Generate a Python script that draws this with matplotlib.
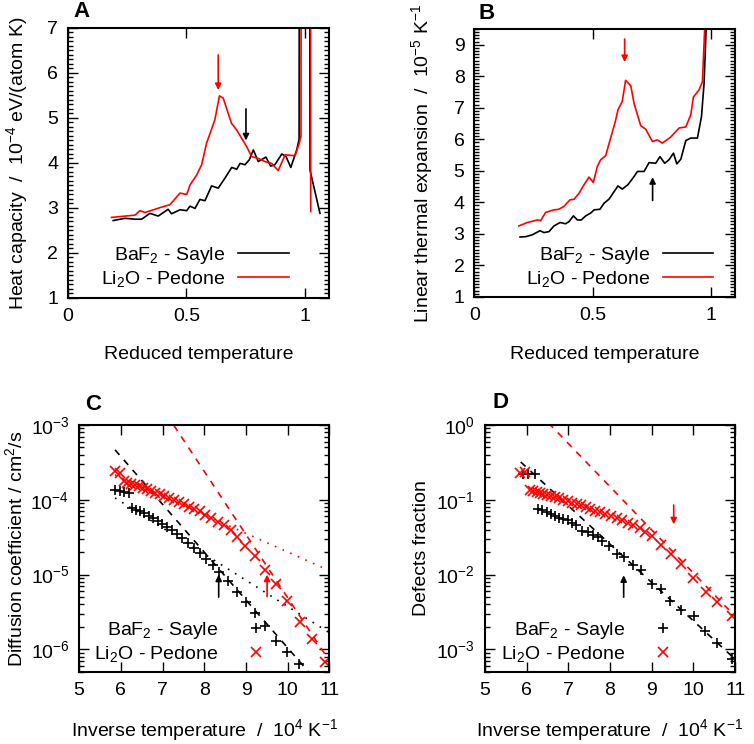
import matplotlib
matplotlib.use("Agg")
import matplotlib.pyplot as plt
from matplotlib.ticker import MultipleLocator, FixedLocator, LogLocator, NullFormatter

plt.rcParams['font.family'] = ['Liberation Sans', 'DejaVu Sans']
plt.rcParams['mathtext.default'] = 'regular'
plt.rcParams['font.size'] = 14

# ---- panel A : heat capacity vs reduced temperature
a_baf2_x = [0.191, 0.241, 0.283, 0.311, 0.346, 0.381, 0.423, 0.437, 0.473, 0.501, 0.515, 0.536,
            0.557, 0.578, 0.606, 0.634, 0.662, 0.691, 0.712, 0.726, 0.747, 0.765, 0.782, 0.803,
            0.835, 0.855, 0.873, 0.902, 0.920, 0.940, 0.965, 0.975, 0.995, 1.021, 1.063]
a_baf2_y = [2.72, 2.77, 2.75, 2.75, 2.88, 2.82, 2.97, 2.87, 2.96, 2.94, 3.04, 2.99,
            3.19, 3.16, 3.49, 3.44, 3.66, 3.90, 3.86, 3.99, 3.96, 4.07, 4.29, 4.03,
            4.13, 3.93, 3.96, 4.20, 4.14, 3.90, 4.29, 4.53, 100.0, 3.84, 2.88]
a_li2o_x = [0.184, 0.283, 0.304, 0.325, 0.367, 0.402, 0.430, 0.473, 0.501, 0.515, 0.543, 0.564,
            0.585, 0.620, 0.639, 0.655, 0.690, 0.712, 0.754, 0.775, 0.803, 0.831, 0.859, 0.887,
            0.916, 0.958, 0.976, 0.983, 1.000, 1.024]
a_li2o_y = [2.79, 2.84, 2.94, 2.90, 2.97, 3.03, 3.07, 3.33, 3.30, 3.51, 3.73, 3.96,
            4.44, 4.96, 5.49, 5.44, 4.88, 4.73, 4.36, 4.14, 4.10, 4.03, 3.99, 3.83,
            4.18, 4.16, 4.44, 4.60, 150.0, 2.92]

# ---- panel B : linear thermal expansion
b_baf2_x = [0.193, 0.217, 0.245, 0.277, 0.294, 0.315, 0.336, 0.362, 0.385, 0.400, 0.418, 0.435,
            0.451, 0.470, 0.491, 0.505, 0.530, 0.547, 0.568, 0.587, 0.606, 0.624, 0.648, 0.674,
            0.688, 0.716, 0.737, 0.765, 0.783, 0.803, 0.821, 0.840, 0.854, 0.871, 0.892, 0.913,
            0.941, 0.958, 0.969, 0.985]
b_baf2_y = [2.90, 2.91, 2.97, 3.10, 3.04, 3.07, 3.25, 3.36, 3.32, 3.39, 3.57, 3.44,
            3.44, 3.57, 3.66, 3.76, 3.78, 3.97, 4.10, 4.31, 4.52, 4.42, 4.56, 4.82,
            4.98, 4.98, 5.26, 5.24, 5.45, 5.24, 5.35, 5.56, 5.22, 5.37, 5.96, 6.04,
            6.04, 6.72, 7.78, 11.0]
b_li2o_x = [0.188, 0.224, 0.266, 0.280, 0.301, 0.336, 0.357, 0.378, 0.404, 0.421, 0.442, 0.463,
            0.484, 0.502, 0.519, 0.533, 0.554, 0.575, 0.596, 0.606, 0.624, 0.638, 0.660, 0.674,
            0.702, 0.723, 0.751, 0.772, 0.793, 0.828, 0.864, 0.892, 0.913, 0.924, 0.948, 0.962,
            0.980]
b_li2o_y = [3.25, 3.36, 3.44, 3.42, 3.68, 3.76, 3.78, 3.87, 4.08, 4.10, 4.29, 4.56,
            4.80, 4.63, 5.14, 5.35, 5.48, 6.04, 6.60, 6.94, 7.20, 7.87, 7.70, 7.13,
            6.43, 6.32, 5.93, 5.98, 5.88, 6.07, 6.36, 6.39, 6.78, 7.34, 7.57, 7.83,
            11.0]

# ---- panel C : diffusion coefficient vs inverse temperature
c_baf2_x = [5.864, 5.968, 6.064, 6.184, 6.264, 6.368, 6.464, 6.56, 6.664, 6.768, 6.88, 6.984,
            7.104, 7.224, 7.344, 7.464, 7.60, 7.744, 7.888, 8.048, 8.208, 8.344, 8.56, 8.784,
            9.007, 9.223, 9.463, 9.728, 9.984, 10.264]
c_baf2_y = [1.36e-4, 1.32e-4, 1.29e-4, 1.25e-4, 7.7e-5, 7.3e-5, 7.0e-5, 6.6e-5, 6.1e-5, 5.7e-5,
            5.2e-5, 4.8e-5, 4.3e-5, 3.95e-5, 3.5e-5, 3.06e-5, 2.67e-5, 2.25e-5, 1.92e-5, 1.6e-5,
            1.34e-5, 1.1e-5, 8.1e-6, 5.8e-6, 4.3e-6, 3.1e-6, 2.08e-6, 1.31e-6, 9.3e-7, 6.4e-7]
c_li2o_x = [5.864, 5.968, 6.064, 6.144, 6.24, 6.328, 6.424, 6.52, 6.624, 6.72, 6.824, 6.928,
            7.04, 7.144, 7.264, 7.384, 7.504, 7.624, 7.76, 7.888, 8.024, 8.168, 8.32, 8.48,
            8.64, 8.784, 8.984, 9.223, 9.463, 9.728, 9.984, 10.288, 10.584, 10.904]
c_li2o_y = [2.4e-4, 2.28e-4, 1.76e-4, 1.67e-4, 1.62e-4, 1.56e-4, 1.51e-4, 1.45e-4, 1.39e-4,
            1.33e-4, 1.25e-4, 1.19e-4, 1.11e-4, 1.05e-4, 1.0e-4, 9.3e-5, 8.75e-5, 8.1e-5,
            7.5e-5, 7.0e-5, 6.3e-5, 5.7e-5, 5.1e-5, 4.6e-5, 3.95e-5, 3.2e-5, 2.4e-5, 1.77e-5,
            1.17e-5, 7.5e-6, 4.4e-6, 2.35e-6, 1.38e-6, 6.8e-7]
# fitted Arrhenius lines (end points)
c_fit_x = [5.86, 11.0]
c_baf2_dash = [4.65e-4, 2.4e-7]
c_baf2_dot = [1.06e-4, 1.67e-6]
c_li2o_dash = [1.53e-2, 7.0e-7]
c_li2o_dot = [2.15e-4, 1.13e-5]

# ---- panel D : defects fraction
d_baf2_x = [5.92, 6.04, 6.20, 6.28, 6.376, 6.48, 6.584, 6.68, 6.776, 6.88, 6.984, 7.08,
            7.176, 7.336, 7.464, 7.60, 7.704, 7.816, 7.976, 8.16, 8.344, 8.56, 8.744, 9.008,
            9.224, 9.448, 9.704, 10.008, 10.288, 10.568, 10.928]
d_baf2_y = [0.223, 0.223, 0.223, 0.075, 0.072, 0.068, 0.064, 0.061, 0.057, 0.055, 0.053, 0.0496,
            0.046, 0.0387, 0.0376, 0.034, 0.0316, 0.0284, 0.0241, 0.0188, 0.017, 0.0134, 0.0117,
            0.0075, 0.0065, 0.0045, 0.0034, 0.0028, 0.00178, 0.00121, 0.00074]
d_li2o_x = [5.84, 5.96, 6.08, 6.16, 6.24, 6.32, 6.40, 6.48, 6.584, 6.68, 6.776, 6.88,
            6.984, 7.08, 7.20, 7.304, 7.416, 7.52, 7.64, 7.76, 7.88, 8.024, 8.16, 8.296,
            8.44, 8.56, 8.72, 8.84, 9.0, 9.224, 9.464, 9.704, 9.992, 10.312, 10.568, 10.928]
d_li2o_y = [0.228, 0.233, 0.136, 0.133, 0.129, 0.125, 0.120, 0.117, 0.113, 0.109, 0.105, 0.100,
            0.095, 0.092, 0.088, 0.084, 0.080, 0.075, 0.071, 0.068, 0.064, 0.061, 0.057, 0.053,
            0.0486, 0.046, 0.0417, 0.0376, 0.0329, 0.0251, 0.019, 0.014, 0.009, 0.0059, 0.0043,
            0.0028]
d_fit_x = [5.86, 11.0]
d_baf2_dash = [0.32, 7.4e-4]
d_li2o_dash = [2.58, 2.77e-3]

# arrows: (x, y_tail, y_head)
a_arrows = [(0.634, 6.4, 5.62, 'red'), (0.751, 5.2, 4.5, 'black')]
b_arrows = [(0.634, 9.18, 8.45, 'red'), (0.752, 4.06, 4.8, 'black')]
c_arrows = [(8.344, 5.0e-6, 1.0e-5, 'black'), (9.504, 5.1e-6, 1.0e-5, 'red')]
d_arrows = [(9.528, 0.085, 0.047, 'red'), (8.328, 0.005, 0.0098, 'black')]

labels = ['BaF$_2$ - Sayle', 'Li$_2$O - Pedone']


def style(ax):
    for s in ax.spines.values():
        s.set_linewidth(1.5)
    ax.tick_params(which='both', direction='in', top=True, right=True, width=1.0)
    ax.tick_params(which='major', length=7, pad=7)
    ax.tick_params(which='minor', length=3.5)
    ax.tick_params(axis='x', which='minor', bottom=False, top=False)


def arrows(ax, arr):
    for x, y0, y1, c in arr:
        ax.annotate('', xy=(x, y1), xytext=(x, y0),
                    arrowprops=dict(arrowstyle='-|>', color=c, lw=1.2, mutation_scale=9,
                                    shrinkA=0, shrinkB=0))


def legend(ax, xr, yc):
    ax.legend(loc='center right', bbox_to_anchor=(xr, yc), frameon=False, markerfirst=False,
              handlelength=2.6, handletextpad=0.65, labelspacing=0.15, borderpad=0,
              borderaxespad=0)


fig = plt.figure(figsize=(7.54, 7.44), dpi=100)
axA = fig.add_axes([0.090, 0.5995, 0.346, 0.363])
axB = fig.add_axes([0.629, 0.601, 0.346, 0.360])
axC = fig.add_axes([0.105, 0.0968, 0.332, 0.332])
axD = fig.add_axes([0.643, 0.0968, 0.332, 0.332])

# A
axA.plot(a_baf2_x, a_baf2_y, color='black', lw=1.2, label=labels[0])
axA.plot(a_li2o_x, a_li2o_y, color='red', lw=1.2, label=labels[1])
axA.set_xlim(0, 1.1)
axA.set_ylim(1, 7)
axA.xaxis.set_major_locator(FixedLocator([0, 0.5, 1]))
axA.set_xticklabels(['0', '0.5', '1'])
axA.yaxis.set_major_locator(MultipleLocator(1))
axA.yaxis.set_minor_locator(MultipleLocator(0.1))
arrows(axA, a_arrows)
axA.set_xlabel('Reduced temperature', va='center')
axA.xaxis.set_label_coords(0.5, -0.211)
axA.set_ylabel('Heat capacity  /  10$^{-4}$ eV/(atom K)', va='center')
axA.yaxis.set_label_coords(-0.195, 0.5)
legend(axA, 0.847, 0.115)
style(axA)

# B
axB.plot(b_baf2_x, b_baf2_y, color='black', lw=1.2, label=labels[0])
axB.plot(b_li2o_x, b_li2o_y, color='red', lw=1.2, label=labels[1])
axB.set_xlim(0, 1.1)
axB.set_ylim(1, 9.5)
axB.xaxis.set_major_locator(FixedLocator([0, 0.5, 1]))
axB.set_xticklabels(['0', '0.5', '1'])
axB.yaxis.set_major_locator(MultipleLocator(1))
axB.yaxis.set_minor_locator(MultipleLocator(0.1))
arrows(axB, b_arrows)
axB.set_xlabel('Reduced temperature', va='center')
axB.xaxis.set_label_coords(0.5, -0.216)
axB.set_ylabel('Linear thermal expansion  /  10$^{-5}$ K$^{-1}$', va='center')
axB.yaxis.set_label_coords(-0.199, 0.5)
legend(axB, 0.916, 0.112)
style(axB)

# C
axC.plot(c_fit_x, c_baf2_dash, color='black', lw=1.2, ls=(0, (4, 4)))
axC.plot(c_fit_x, c_baf2_dot, color='black', lw=1.2, ls=(0, (1, 4)))
axC.plot(c_fit_x, c_li2o_dash, color='red', lw=1.2, ls=(0, (4, 4)))
axC.plot(c_fit_x, c_li2o_dot, color='red', lw=1.2, ls=(0, (1, 4)))
axC.plot(c_baf2_x, c_baf2_y, ls='none', marker='+', ms=7, mew=1.2, color='black', label=labels[0])
axC.plot(c_li2o_x, c_li2o_y, ls='none', marker='x', ms=7.5, mew=1.2, color='red', label=labels[1])
axC.set_yscale('log')
axC.set_xlim(5, 11)
axC.set_ylim(5e-7, 1e-3)
axC.xaxis.set_major_locator(MultipleLocator(1))
axC.yaxis.set_major_locator(LogLocator(base=10, numticks=10))
axC.yaxis.set_minor_locator(LogLocator(base=10, subs=range(2, 10), numticks=10))
axC.yaxis.set_minor_formatter(NullFormatter())
arrows(axC, c_arrows)
axC.set_xlabel('Inverse temperature  /  10$^4$ K$^{-1}$', va='center')
axC.xaxis.set_label_coords(0.5, -0.235)
axC.set_ylabel('Diffusion coefficient / cm$^2$/s', va='center')
axC.yaxis.set_label_coords(-0.256, 0.5)
legend(axC, 0.808, 0.123)
style(axC)

# D
axD.plot(d_fit_x, d_baf2_dash, color='black', lw=1.2, ls=(0, (4, 4)))
axD.plot(d_fit_x, d_li2o_dash, color='red', lw=1.2, ls=(0, (4, 4)))
axD.plot(d_baf2_x, d_baf2_y, ls='none', marker='+', ms=7, mew=1.2, color='black', label=labels[0])
axD.plot(d_li2o_x, d_li2o_y, ls='none', marker='x', ms=7.5, mew=1.2, color='red', label=labels[1])
axD.set_yscale('log')
axD.set_xlim(5, 11)
axD.set_ylim(5e-4, 1)
axD.xaxis.set_major_locator(MultipleLocator(1))
axD.yaxis.set_major_locator(LogLocator(base=10, numticks=10))
axD.yaxis.set_minor_locator(LogLocator(base=10, subs=range(2, 10), numticks=10))
axD.yaxis.set_minor_formatter(NullFormatter())
arrows(axD, d_arrows)
axD.set_xlabel('Inverse temperature  /  10$^4$ K$^{-1}$', va='center')
axD.xaxis.set_label_coords(0.5, -0.235)
axD.set_ylabel('Defects fraction', va='center')
axD.yaxis.set_label_coords(-0.252, 0.5)
legend(axD, 0.813, 0.123)
style(axD)

# panel letters
for lab, px, py in [('A', 81.7, 11.7), ('B', 487, 13.3), ('C', 93.3, 404), ('D', 500.3, 403)]:
    fig.text(px / 754, 1 - py / 744, lab, fontsize=16, fontweight='bold', ha='center', va='center')

fig.savefig('out.png', dpi=100)
